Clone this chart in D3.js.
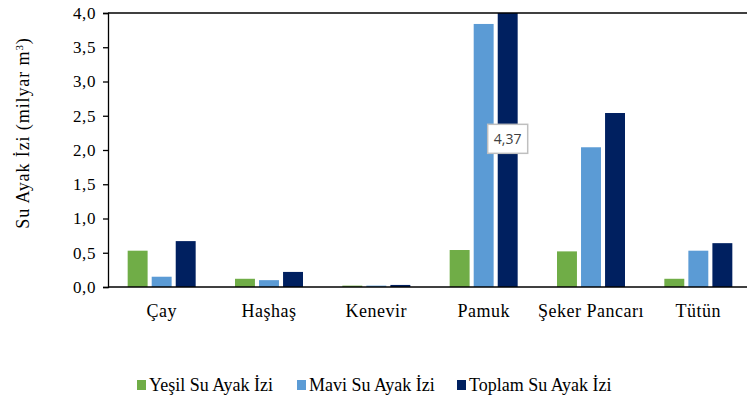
<!DOCTYPE html>
<html>
<head>
<meta charset="utf-8">
<script src="https://cdn.jsdelivr.net/npm/d3@7"></script>
<style>
  body { margin: 0; background: #fff; }
</style>
</head>
<body>
<div id="chart-area"></div>
<script>
// data
var categories = ["Çay", "Haşhaş", "Kenevir", "Pamuk", "Şeker Pancarı", "Tütün"];
var seriesNames = ["Yeşil Su Ayak İzi", "Mavi Su Ayak İzi", "Toplam Su Ayak İzi"];
var yesil = [0.53, 0.12, 0.02, 0.54, 0.52, 0.12];
var mavi = [0.15, 0.10, 0.02, 3.84, 2.04, 0.53];
var toplam = [0.67, 0.22, 0.03, 4.37, 2.54, 0.64];
var yTicks = [0, 0.5, 1, 1.5, 2, 2.5, 3, 3.5, 4];
var colors = ["#70AD47", "#5B9BD5", "#002060"];

var SERIF = "Liberation Serif";
var width = 747, height = 400;
var left = 108, top_y = 13, bottom_y = 287, right = 752;

var svg = d3.select("#chart-area").append("svg")
	.attr("width", width)
	.attr("height", height);

var x = d3.scaleBand().domain(categories).range([left, right]).paddingInner(0).paddingOuter(0);
var x1 = d3.scaleBand().domain(seriesNames).range([0, 68]).paddingInner(0.17);
var y = d3.scaleLinear().domain([0, 4]).range([bottom_y, top_y]).clamp(true);

var series = [yesil, mavi, toplam];
var offset = (x.bandwidth() - 68) / 2;

series.forEach(function(vals, s){
	svg.append("g").selectAll("rect")
		.data(vals)
		.enter()
		.append("rect")
			.attr("x", function(d, i){ return x(categories[i]) + offset + x1(seriesNames[s]); })
			.attr("y", function(d){ return y(d); })
			.attr("width", x1.bandwidth())
			.attr("height", function(d){ return bottom_y - y(d); })
			.style("fill", colors[s]);
});

// top line
svg.append("line")
	.attr("x1", left).attr("x2", width)
	.attr("y1", y(4)).attr("y2", y(4))
	.attr("stroke", "#000").attr("stroke-width", 1.3);

// bottom line
svg.append("line")
	.attr("x1", left).attr("x2", width)
	.attr("y1", y(0)).attr("y2", y(0))
	.attr("stroke", "#000").attr("stroke-width", 1.3);

// y axis
var yAxis = d3.axisLeft(y)
	.tickValues(yTicks)
	.tickSize(5)
	.tickPadding(7)
	.tickFormat(function(d){ return d3.format(".1f")(d).replace(".", ","); });

var gy = svg.append("g")
	.attr("transform", "translate(" + left + ",0)")
	.call(yAxis);
gy.attr("font-family", SERIF).attr("font-size", 17);
gy.select(".domain").attr("stroke", "#000").attr("stroke-width", 1.3);
gy.selectAll(".tick line").attr("stroke", "#000").attr("stroke-width", 1.3);
gy.selectAll(".tick text")
	.attr("fill", "#000")
	.attr("letter-spacing", 0.6);

// category labels
svg.append("g").selectAll("text")
	.data(categories)
	.enter()
	.append("text")
		.attr("x", function(d){ return x(d) + x.bandwidth() / 2; })
		.attr("y", 317)
		.attr("text-anchor", "middle")
		.attr("font-family", SERIF)
		.attr("font-size", 18)
		.attr("letter-spacing", 0.5)
		.text(function(d){ return d; });

// y title
var yt = svg.append("text")
	.attr("transform", "translate(29,133) rotate(-90)")
	.attr("text-anchor", "middle")
	.attr("font-family", SERIF)
	.attr("font-size", 18)
	.attr("letter-spacing", 0.9);
yt.append("tspan").text("Su Ayak  İzi (milyar m");
yt.append("tspan").attr("baseline-shift", "super").attr("font-size", 11).text("3");
yt.append("tspan").text(")");

// data label for clipped bar
var pi = 3;
var lx = x(categories[pi]) + offset + x1(seriesNames[2]) + x1.bandwidth() / 2;
var ly = y(toplam[pi] / 2) + 2;
svg.append("rect")
	.attr("x", lx - 20).attr("y", ly - 15)
	.attr("width", 40).attr("height", 29)
	.attr("fill", "#fff")
	.attr("stroke", "#bfbfbf").attr("stroke-width", 1.5);
svg.append("text")
	.attr("x", lx).attr("y", ly + 5)
	.attr("text-anchor", "middle")
	.attr("font-family", "Open Sans")
	.attr("font-size", 14)
	.attr("fill", "#404040")
	.text(d3.format(".2f")(toplam[pi]).replace(".", ","));

// legend
var legendX = [137, 297, 457];
var lg = svg.append("g").selectAll("g")
	.data(seriesNames)
	.enter()
	.append("g")
		.attr("transform", function(d, i){ return "translate(" + legendX[i] + ",380)"; });
lg.append("rect")
	.attr("width", 9).attr("height", 10)
	.attr("fill", function(d, i){ return colors[i]; });
lg.append("text")
	.attr("x", 12).attr("y", 11)
	.attr("font-family", SERIF)
	.attr("font-size", 18)
	.text(function(d){ return d; });
</script>
</body>
</html>
